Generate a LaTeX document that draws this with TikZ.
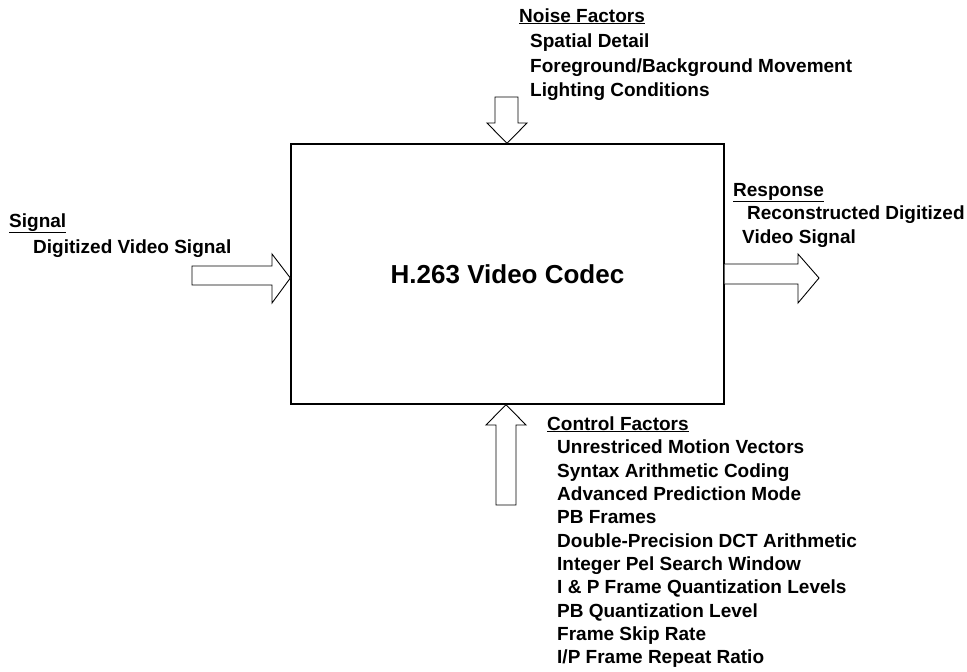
\documentclass[tikz,border=0pt]{standalone}
\usepackage{fontspec}
\setmainfont{Liberation Sans}
\begin{document}
\begin{tikzpicture}[x=1pt,y=-1pt,
  lbl/.style={anchor=base west,inner sep=0pt,font=\fontsize{19}{22}\selectfont\bfseries},
  barrow/.style={draw=black,line width=0.9pt,fill=white,line join=miter}]
\useasboundingbox (0,0) rectangle (967,672);
% main box
\node[draw,line width=1.3pt,minimum width=433pt,minimum height=260pt,inner sep=0pt,
  font=\fontsize{26}{30}\selectfont\bfseries] (codec) at (507.5,274) {H.263 Video Codec};
% noise arrow (down)
\draw[barrow] (495,97) -- (518,97) -- (518,123) -- (527,123) -- (codec.north -| 507,0) -- (487,123) -- (495,123) -- cycle;
% control arrow (up)
\draw[barrow] (496,505) -- (516,505) -- (516,425) -- (526,425) -- (codec.south -| 506,0) -- (486,425) -- (496,425) -- cycle;
% signal arrow (right, into box)
\draw[barrow] (192,266) -- (272,266) -- (272,254) -- (codec.west |- 0,278) -- (272,303) -- (272,285) -- (192,285) -- cycle;
% response arrow (right, out of box)
\draw[barrow] (codec.east |- 0,264) -- (798,264) -- (798,254) -- (819,278) -- (798,303) -- (798,284) -- (codec.east |- 0,284);
% noise labels
\node[lbl] (nf) at (519,22) {\underline{Noise Factors}};
\node[lbl] (n1) at (530,47) {Spatial Detail};
\node[lbl] (n2) at (530,72) {Foreground/Background Movement};
\node[lbl] (n3) at (530,96) {Lighting Conditions};
% signal labels
\node[lbl] (sg) at (9,227) {\underline{Signal}};
\node[lbl] (s1) at (33,253) {Digitized Video Signal};
% response labels
\node[lbl] (rs) at (733,196) {\underline{Response}};
\node[lbl] (r1) at (747,219) {Reconstructed Digitized};
\node[lbl] (r2) at (742,243) {Video Signal};
% control labels
\node[lbl] (cf) at (547,430) {\underline{Control Factors}};
\node[lbl] (c1) at (557,453) {Unrestriced Motion Vectors};
\node[lbl] (c2) at (557,477) {Syntax Arithmetic Coding};
\node[lbl] (c3) at (557,500) {Advanced Prediction Mode};
\node[lbl] (c4) at (557,523) {PB Frames};
\node[lbl] (c5) at (557,547) {Double-Precision DCT Arithmetic};
\node[lbl] (c6) at (557,570) {Integer Pel Search Window};
\node[lbl] (c7) at (557,593) {I \& P Frame Quantization Levels};
\node[lbl] (c8) at (557,617) {PB Quantization Level};
\node[lbl] (c9) at (557,640) {Frame Skip Rate};
\node[lbl] (c10) at (557,663) {I/P Frame Repeat Ratio};
\end{tikzpicture}
\end{document}
